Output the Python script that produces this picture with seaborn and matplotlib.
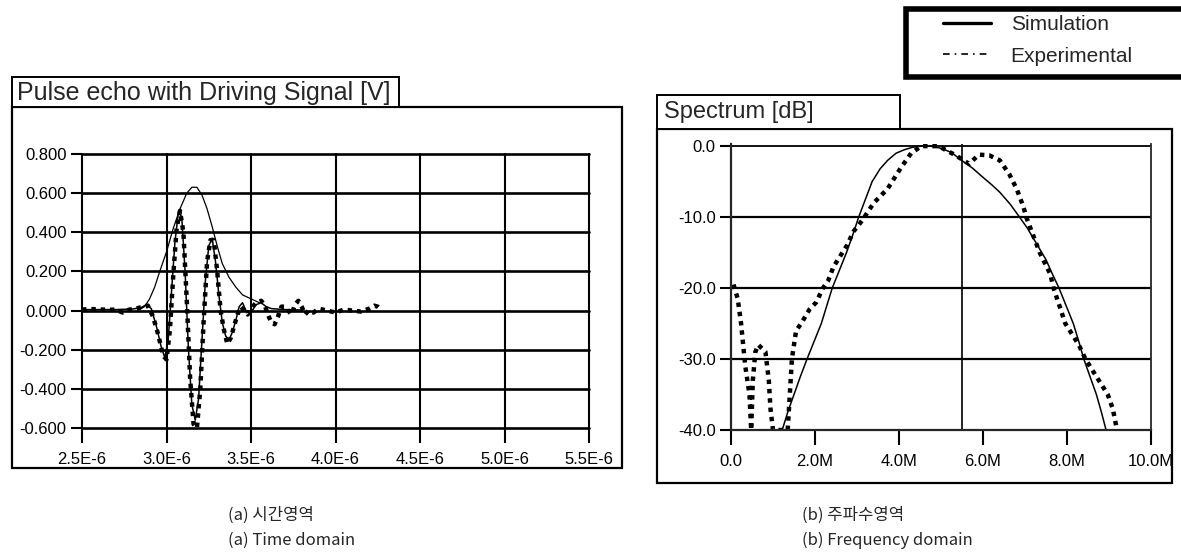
import matplotlib
matplotlib.use("Agg")
import matplotlib.pyplot as plt
from matplotlib.patches import Rectangle
from matplotlib.lines import Line2D
import seaborn as sns
import pandas as pd

# ---------------- data ----------------
# (a) time domain, time in microseconds, amplitude in V
t_sim = [2.50, 2.60, 2.70, 2.80, 2.85, 2.88, 2.91, 2.94, 2.97, 2.99, 3.01, 3.03, 3.05,
         3.07, 3.09, 3.11, 3.13, 3.15, 3.17, 3.19, 3.21, 3.23, 3.25, 3.27, 3.29, 3.31,
         3.33, 3.35, 3.37, 3.39, 3.41, 3.43, 3.45, 3.47, 3.50, 3.53, 3.56, 3.59, 3.62,
         3.70, 3.80]
v_sim = [0.005, 0.005, 0.005, 0.008, 0.015, 0.030, 0.010, -0.080, -0.190, -0.240,
         -0.150, 0.100, 0.350, 0.500, 0.480, 0.200, -0.200, -0.480, -0.560, -0.450,
         -0.150, 0.150, 0.330, 0.370, 0.250, 0.080, -0.060, -0.130, -0.150, -0.110,
         -0.050, 0.020, 0.040, 0.000, -0.010, 0.030, 0.040, 0.020, 0.010, 0.005, 0.003]

t_exp = [2.50, 2.55, 2.60, 2.65, 2.70, 2.74, 2.78, 2.82, 2.86, 2.89, 2.92, 2.95, 2.98,
         3.00, 3.02, 3.04, 3.06, 3.08, 3.10, 3.12, 3.14, 3.16, 3.18, 3.20, 3.22, 3.24,
         3.26, 3.28, 3.30, 3.32, 3.34, 3.36, 3.38, 3.40, 3.42, 3.44, 3.46, 3.48, 3.50,
         3.53, 3.56, 3.58, 3.60, 3.62, 3.64, 3.66, 3.68, 3.70, 3.72, 3.74, 3.76, 3.78,
         3.80, 3.82, 3.84, 3.87, 3.90, 3.95, 4.00, 4.05, 4.10, 4.15, 4.20, 4.23, 4.25,
         4.27]
v_exp = [0.005, 0.008, 0.006, 0.004, 0.005, -0.010, 0.005, 0.010, 0.020, 0.025,
         -0.030, -0.120, -0.230, -0.250, -0.100, 0.180, 0.420, 0.510, 0.400, 0.050,
         -0.350, -0.580, -0.600, -0.400, -0.050, 0.250, 0.360, 0.360, 0.200, 0.000,
         -0.100, -0.170, -0.140, -0.080, -0.020, 0.020, 0.000, -0.020, 0.010, 0.040,
         0.050, 0.030, -0.020, -0.060, -0.070, -0.030, 0.020, 0.020, 0.000, -0.020,
         0.030, 0.050, 0.020, -0.020, 0.000, -0.010, 0.010, 0.000, -0.010, 0.005,
         0.000, -0.005, 0.010, 0.025, 0.020, 0.005]

t_drive = [2.83, 2.87, 2.90, 2.93, 2.96, 3.00, 3.04, 3.08, 3.12, 3.15, 3.18, 3.21,
           3.24, 3.27, 3.30, 3.33, 3.37, 3.41, 3.45, 3.50, 3.55]
v_drive = [0.000, 0.020, 0.060, 0.120, 0.200, 0.300, 0.420, 0.520, 0.600, 0.630,
           0.630, 0.590, 0.520, 0.430, 0.330, 0.240, 0.170, 0.120, 0.080, 0.060, 0.040]

# (b) frequency domain, frequency in MHz, spectrum in dB
f_sim = [1.22, 1.35, 1.50, 1.65, 1.81, 1.98, 2.15, 2.28, 2.41, 2.58, 2.75, 2.90,
         3.04, 3.20, 3.36, 3.55, 3.73, 3.93, 4.13, 4.33, 4.53, 4.75, 5.00, 5.25,
         5.49, 5.75, 6.00, 6.20, 6.40, 6.65, 6.87, 7.05, 7.20, 7.35, 7.50, 7.65,
         7.81, 7.98, 8.15, 8.28, 8.40, 8.55, 8.70, 8.82, 8.93]
db_sim = [-40.0, -37.5, -35.0, -32.5, -30.0, -27.5, -25.0, -22.5, -20.0, -17.5,
          -15.0, -12.5, -10.0, -7.5, -5.0, -3.2, -2.0, -1.0, -0.5, -0.15, 0.0,
          0.0, -0.3, -0.9, -2.0, -3.1, -4.4, -5.4, -6.5, -8.2, -10.0, -11.5,
          -13.0, -14.5, -16.0, -18.0, -20.0, -22.5, -25.0, -27.5, -30.0, -32.5,
          -35.0, -37.5, -40.0]

f_exp = [0.06, 0.16, 0.24, 0.34, 0.44, 0.48, 0.52, 0.58, 0.65, 0.82, 0.90, 0.94,
         1.00, 1.35, 1.39, 1.45, 1.55, 1.67, 1.87, 2.03, 2.19, 2.31, 2.44, 2.60,
         2.76, 2.92, 3.12, 3.40, 3.73, 4.05, 4.29, 4.53, 4.94, 5.35, 5.67, 5.90,
         6.15, 6.40, 6.63, 6.80, 6.96, 7.03, 7.35, 7.60, 7.68, 7.96, 8.28, 8.44,
         8.65, 8.97, 9.09, 9.19]
db_exp = [-19.5, -21.5, -25.0, -31.0, -35.0, -40.0, -33.0, -29.0, -28.0, -29.0,
          -33.0, -37.0, -40.0, -40.0, -36.0, -30.0, -26.0, -25.0, -23.0, -22.0,
          -20.0, -19.0, -17.0, -15.5, -14.0, -12.0, -10.5, -8.0, -6.0, -3.0, -1.0,
          0.0, 0.0, -1.3, -2.5, -1.2, -1.3, -2.0, -4.0, -6.0, -8.5, -10.0, -15.0,
          -18.0, -20.0, -25.0, -28.0, -30.0, -32.0, -35.0, -37.0, -40.0]

time_ticks = [2.5, 3.0, 3.5, 4.0, 4.5, 5.0, 5.5]
time_labels = ["2.5E-6", "3.0E-6", "3.5E-6", "4.0E-6", "4.5E-6", "5.0E-6", "5.5E-6"]
volt_ticks = [0.8, 0.6, 0.4, 0.2, 0.0, -0.2, -0.4, -0.6]
volt_labels = ["0.800", "0.600", "0.400", "0.200", "0.000", "-0.200", "-0.400", "-0.600"]
freq_ticks = [0, 2, 4, 6, 8, 10]
freq_labels = ["0.0", "2.0M", "4.0M", "6.0M", "8.0M", "10.0M"]
db_ticks = [0, -10, -20, -30, -40]
db_labels = ["0.0", "-10.0", "-20.0", "-30.0", "-40.0"]

series_names = ["Simulation", "Experimental"]
left_title = "Pulse echo with Driving Signal [V]"
right_title = "Spectrum [dB]"
caption_a = ["(a) 시간영역", "(a) Time domain"]
caption_b = ["(b) 주파수영역", "(b) Frequency domain"]

# ---------------- style ----------------
sns.set_style("white")
plt.rcParams["font.family"] = ["Liberation Sans", "Noto Sans CJK KR", "DejaVu Sans"]

W, H = 1181, 560
fig = plt.figure(figsize=(W / 100, H / 100), dpi=100)


def fx(px):
    return px / W


def fy(py):
    return 1 - py / H


def frect(x0, y0, x1, y1, **kw):
    fig.patches.append(Rectangle((fx(x0), fy(y1)), fx(x1 - x0), (y1 - y0) / H,
                                 transform=fig.transFigure, **kw))


axL = fig.add_axes([fx(82), fy(428), fx(589 - 82), (428 - 154) / H])
axR = fig.add_axes([fx(731), fy(430), fx(1151 - 731), (430 - 144) / H])

SIM_KW = dict(color="black", linewidth=1.1, linestyle="-")
EXP_KW = dict(color="black", linewidth=3.2, linestyle=(0, (1.0, 1.1)))

df_sim = pd.DataFrame({"t": t_sim, "v": v_sim})
df_exp = pd.DataFrame({"t": t_exp, "v": v_exp})
df_drv = pd.DataFrame({"t": t_drive, "v": v_drive})
sns.lineplot(data=df_drv, x="t", y="v", ax=axL, sort=False, estimator=None,
             color="black", linewidth=0.9)
sns.lineplot(data=df_exp, x="t", y="v", ax=axL, sort=False, estimator=None, **EXP_KW)
sns.lineplot(data=df_sim, x="t", y="v", ax=axL, sort=False, estimator=None, **SIM_KW)

dfs_sim = pd.DataFrame({"f": f_sim, "db": db_sim})
dfs_exp = pd.DataFrame({"f": f_exp, "db": db_exp})
sns.lineplot(data=dfs_exp, x="f", y="db", ax=axR, sort=False, estimator=None, **EXP_KW)
sns.lineplot(data=dfs_sim, x="f", y="db", ax=axR, sort=False, estimator=None, **SIM_KW)

# left axes formatting
axL.set_xlim(2.5, 5.5)
axL.set_ylim(-0.6, 0.8)
axL.set_xticks(time_ticks)
axL.set_xticklabels(time_labels)
axL.set_yticks(volt_ticks)
axL.set_yticklabels(volt_labels)
for v in volt_ticks:
    axL.axhline(v, color="black", linewidth=1.9, zorder=0.5, clip_on=False)
for t in time_ticks:
    axL.axvline(t, color="black", linewidth=1.5, zorder=0.5, clip_on=False)

# right axes formatting
axR.set_xlim(0, 10)
axR.set_ylim(-40, 0.3)
axR.set_xticks(freq_ticks)
axR.set_xticklabels(freq_labels)
axR.set_yticks(db_ticks)
axR.set_yticklabels(db_labels)
for v in [-10, -20, -30]:
    axR.axhline(v, color="black", linewidth=1.6, zorder=0.5)
axR.axhline(0, color="black", linewidth=1.3, zorder=0.5)
axR.axvline(5.5, color="black", linewidth=1.2, zorder=0.5)

for ax in (axL, axR):
    ax.set_xlabel("")
    ax.set_ylabel("")
    for s in ax.spines.values():
        s.set_visible(False)
    ax.tick_params(axis="both", which="both", direction="out", width=1.5,
                   color="black", labelsize=12, labelcolor="black",
                   bottom=True, left=True)
    ax.tick_params(axis="y", length=8, pad=3)
    ax.tick_params(axis="x", length=11, pad=6)
    ax.patch.set_alpha(0)
axR.spines["left"].set_visible(True)
axR.spines["bottom"].set_visible(True)
axR.spines["right"].set_visible(True)
axR.spines["left"].set_linewidth(1.6)
axR.spines["bottom"].set_linewidth(1.6)
axR.spines["right"].set_linewidth(1.3)

# panel frames
frect(12, 107, 622, 468, fill=False, ec="black", lw=1.6)
frect(657, 129, 1172, 483, fill=False, ec="black", lw=1.6)

# title boxes
tL = fig.text(fx(17), fy(93), left_title, fontsize=18, va="center", ha="left", zorder=5)
tR = fig.text(fx(664), fy(112), right_title, fontsize=17, va="center", ha="left", zorder=5)
fig.canvas.draw()
extL = tL.get_window_extent()
left_box_right = extL.x1 + 8
frect(12, 77, left_box_right, 107, fill=True, fc="white", ec="black", lw=1.4, zorder=1)
frect(657, 95, 900, 129, fill=True, fc="white", ec="black", lw=1.4, zorder=1)

# legend (frame drawn separately)
frect(906, 9, 1190, 77, fill=True, fc="white", ec="black", lw=4.0, zorder=1)
handles = [Line2D([], [], color="black", lw=2.4, ls="-"),
           Line2D([], [], color="black", lw=1.2, ls=(0, (4, 3, 1, 3)))]
leg = fig.legend(handles, series_names, loc="upper left",
                 bbox_to_anchor=(fx(943), fy(15)), fontsize=15, frameon=False,
                 handlelength=2.3, handletextpad=0.95,
                 borderpad=0, labelspacing=0.6, borderaxespad=0)
leg.set_zorder(6)

# captions
cap_kw = dict(fontsize=12, va="center", ha="left",
              family=["Noto Sans CJK KR", "Liberation Sans"], weight="medium")
fig.text(fx(228), fy(515), caption_a[0], **cap_kw)
fig.text(fx(228), fy(540), caption_a[1], **cap_kw)
fig.text(fx(802), fy(515), caption_b[0], **cap_kw)
fig.text(fx(802), fy(540), caption_b[1], **cap_kw)

fig.savefig("out.png", dpi=100)
